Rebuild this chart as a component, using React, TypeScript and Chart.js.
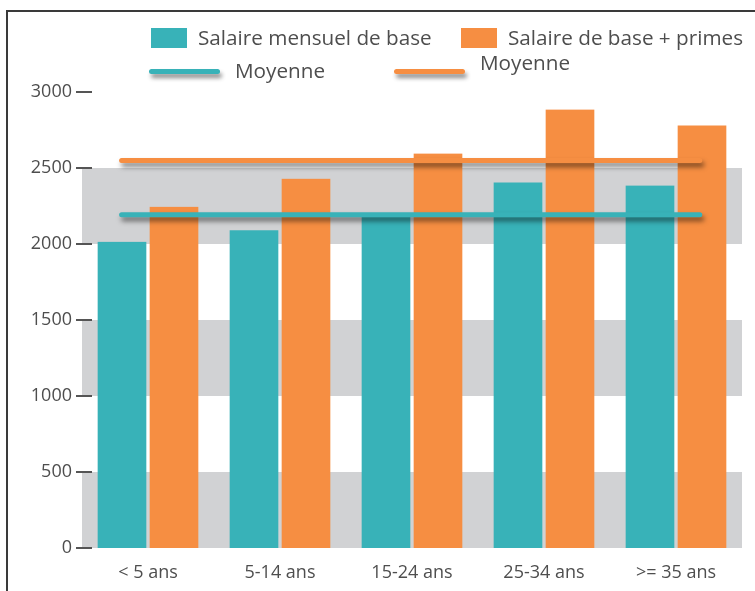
import React, { useEffect, useRef } from "react";
import { Chart, registerables } from "chart.js";

Chart.register(...registerables);

const categories = ["< 5 ans", "5-14 ans", "15-24 ans", "25-34 ans", ">= 35 ans"];
const baseSalary = [2015, 2090, 2190, 2405, 2385];
const salaryWithBonus = [2245, 2430, 2595, 2885, 2780];
const baseAverage = 2192;
const bonusAverage = 2550;
const averageSpan = [-0.2, 4.18];
const yTicks = [0, 500, 1000, 1500, 2000, 2500, 3000];
const bands = [
  [0, 500],
  [1000, 1500],
  [2000, 2500],
];

const TEAL = "#38b2b8";
const ORANGE = "#f68e42";
const GRAY = "#d1d2d4";
const TEXT = "#4e4e4e";
const FONT = "'Open Sans', sans-serif";

const bgPlugin = {
  id: "bands",
  beforeDatasetsDraw(chart: any) {
    const { ctx, chartArea } = chart;
    const y = chart.scales.y;
    ctx.save();
    ctx.fillStyle = GRAY;
    bands.forEach(([a, b]) => {
      const top = y.getPixelForValue(b);
      const bot = y.getPixelForValue(a);
      ctx.fillRect(chartArea.left, top, chartArea.right - chartArea.left, bot - top);
    });
    ctx.strokeStyle = "#555";
    ctx.lineWidth = 2;
    yTicks.forEach((v) => {
      const py = Math.round(y.getPixelForValue(v));
      ctx.beginPath();
      ctx.moveTo(chartArea.left - 6, py);
      ctx.lineTo(chartArea.left + 10, py);
      ctx.stroke();
    });
    ctx.restore();
  },
};

const shadowPlugin = {
  id: "lineShadow",
  beforeDatasetDraw(chart: any, args: any) {
    const ds = chart.data.datasets[args.index];
    if (ds.type === "line") {
      const ctx = chart.ctx;
      ctx.save();
      ctx.shadowColor = "rgba(0,0,0,0.5)";
      ctx.shadowBlur = 5;
      ctx.shadowOffsetX = 2;
      ctx.shadowOffsetY = 4;
    }
  },
  afterDatasetDraw(chart: any, args: any) {
    const ds = chart.data.datasets[args.index];
    if (ds.type === "line") chart.ctx.restore();
  },
};

function LegendLine({ left, top, color }: { left: number; top: number; color: string }) {
  return (
    <div
      style={{
        position: "absolute",
        left,
        top,
        width: 71,
        height: 5,
        borderRadius: 3,
        background: color,
        boxShadow: "2px 4px 4px rgba(0,0,0,0.45)",
      }}
    />
  );
}

const textStyle: React.CSSProperties = {
  position: "absolute",
  fontFamily: FONT,
  fontSize: 20.7,
  lineHeight: "21px",
  color: TEXT,
  whiteSpace: "nowrap",
};

const barStyle = {
  barThickness: 52,
  borderWidth: { left: 2, right: 2, top: 0, bottom: 0 },
  borderColor: "rgba(0,0,0,0)",
};

export default function App() {
  const ref = useRef<HTMLCanvasElement>(null);

  useEffect(() => {
    if (!ref.current) return;
    const chart = new Chart(ref.current, {
      type: "bar",
      data: {
        labels: categories,
        datasets: [
          {
            type: "line",
            label: "Moyenne",
            data: averageSpan.map((x) => ({ x, y: bonusAverage })),
            xAxisID: "x2",
            yAxisID: "y",
            borderColor: ORANGE,
            borderWidth: 5,
            borderCapStyle: "round",
            pointRadius: 0,
            order: 0,
          } as any,
          {
            type: "line",
            label: "Moyenne",
            data: averageSpan.map((x) => ({ x, y: baseAverage })),
            xAxisID: "x2",
            yAxisID: "y",
            borderColor: TEAL,
            borderWidth: 5,
            borderCapStyle: "round",
            pointRadius: 0,
            order: 0,
          } as any,
          {
            type: "bar",
            label: "Salaire mensuel de base",
            data: baseSalary,
            xAxisID: "x",
            yAxisID: "y",
            backgroundColor: TEAL,
            ...barStyle,
            order: 1,
          } as any,
          {
            type: "bar",
            label: "Salaire de base + primes",
            data: salaryWithBonus,
            xAxisID: "x",
            yAxisID: "y",
            backgroundColor: ORANGE,
            ...barStyle,
            order: 1,
          } as any,
        ],
      },
      options: {
        animation: false,
        responsive: true,
        maintainAspectRatio: false,
        layout: { padding: { top: 92, right: 13, left: 0, bottom: 0 } },
        plugins: {
          legend: { display: false },
          tooltip: { enabled: false },
        },
        scales: {
          x: {
            type: "category",
            offset: true,
            grid: { display: false, drawTicks: false },
            border: { display: false },
            ticks: {
              color: TEXT,
              font: { family: FONT, size: 18 },
              padding: 14,
            },
            afterFit(scale: any) {
              scale.height = 43;
            },
          },
          x2: {
            type: "linear",
            display: false,
            offset: false,
            grid: { offset: false },
            min: -0.5,
            max: 4.5,
          },
          y: {
            min: 0,
            max: 3000,
            grid: { display: false, drawTicks: false },
            border: { display: false },
            afterBuildTicks(scale: any) {
              scale.ticks = yTicks.map((v) => ({ value: v }));
            },
            ticks: {
              color: TEXT,
              font: { family: FONT, size: 18 },
              padding: 10,
              callback: (v: any) => String(v),
            },
            afterFit(scale: any) {
              scale.width = 82;
            },
          },
        },
      } as any,
      plugins: [bgPlugin, shadowPlugin],
    });
    return () => chart.destroy();
  }, []);

  return (
    <div style={{ position: "fixed", left: 0, top: 0, width: 755, height: 591, overflow: "hidden", background: "#fff" }}>
      <div
        style={{
          position: "absolute",
          left: 6,
          top: 10,
          width: 2000,
          height: 2000,
          borderLeft: "2px solid #3a3a3a",
          borderTop: "2px solid #3a3a3a",
        }}
      />
      <div style={{ position: "absolute", left: 0, top: 0, width: 755, height: 591 }}>
        <canvas ref={ref} />
      </div>
      <div style={{ position: "absolute", left: 151, top: 28, width: 36, height: 20, background: TEAL }} />
      <div style={{ ...textStyle, left: 198, top: 27 }}>Salaire mensuel de base</div>
      <div style={{ position: "absolute", left: 461, top: 28, width: 36, height: 20, background: ORANGE }} />
      <div style={{ ...textStyle, left: 508, top: 27 }}>Salaire de base + primes</div>
      <LegendLine left={149} top={69} color={TEAL} />
      <div style={{ ...textStyle, left: 235, top: 60 }}>Moyenne</div>
      <LegendLine left={394} top={69} color={ORANGE} />
      <div style={{ ...textStyle, left: 480, top: 52 }}>Moyenne</div>
    </div>
  );
}
